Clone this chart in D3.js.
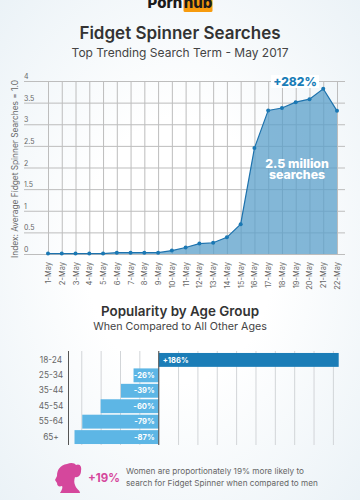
<!DOCTYPE html>
<html><head><meta charset="utf-8">
<script src="https://cdn.jsdelivr.net/npm/d3@7/dist/d3.min.js"></script>
<style>html,body{margin:0;padding:0;background:#fff;overflow:hidden}svg{display:block}text{font-family:Inter,"Noto Sans",sans-serif}</style>
</head><body><svg id="c" width="360" height="500"></svg>
<script>
const days=["1-May","2-May","3-May","4-May","5-May","6-May","7-May","8-May","9-May","10-May","11-May","12-May","13-May","14-May","15-May","16-May","17-May","18-May","19-May","20-May","21-May","22-May"];
const index=[0.01,0.01,0.01,0.01,0.01,0.03,0.03,0.03,0.03,0.08,0.15,0.24,0.26,0.385,0.69,2.45,3.32,3.375,3.51,3.58,3.82,3.31];
const yTicks=[0,0.5,1,1.5,2,2.5,3,3.5,4];
const ages=["18-24","25-34","35-44","45-54","55-64","65+"];
const popularity=[186,-26,-39,-60,-79,-87];
const popTicks=[-80,-60,-40,-20,0,20,40,60,80,100,120,140,160,180];

const svg=d3.select("#c");
const defs=svg.append("defs");
const g=defs.append("radialGradient").attr("id","bg").attr("cx","50%").attr("cy","50%").attr("r","75%");
g.append("stop").attr("offset","35%").attr("stop-color","#ffffff");
g.append("stop").attr("offset","100%").attr("stop-color","#e9f1f6");
svg.append("rect").attr("width",360).attr("height",500).attr("fill","url(#bg)");

function T(x,y,s,size,weight,fill,anchor){return svg.append("text").attr("x",x).attr("y",y).text(s).attr("font-size",size).attr("font-weight",weight).attr("fill",fill).attr("text-anchor",anchor||"middle");}

// logo
T(165,8,"Porn",15,800,"#1b1b1b");
svg.append("rect").attr("x",183.5).attr("y",-4).attr("width",29).attr("height",16).attr("rx",1.5).attr("fill","#f79b0e");
T(198,8,"hub",15,800,"#1b1b1b");

T(180,39,"Fidget Spinner Searches",17,600,"#333");
T(180,57,"Top Trending Search Term - May 2017",12,400,"#444");

// line chart
const x=d3.scalePoint().domain(days).range([48,337]);
const y=d3.scaleLinear().domain([0,4]).range([254,81]);
const grid="#bdbdbd";
const gy=svg.append("g").attr("transform","translate(24,0)").call(d3.axisRight(y).tickValues(yTicks).tickSize(321).tickFormat(d=>d));
gy.select(".domain").remove();
gy.selectAll("line").attr("stroke",grid);
gy.selectAll("text").attr("x",0).attr("dy",-2.5).attr("text-anchor","start").attr("font-size",7).attr("fill","#666").attr("font-family","Inter");
const gx=svg.append("g").attr("transform","translate(0,254)").call(d3.axisBottom(x).tickSize(-173).tickSizeOuter(0));
gx.select(".domain").remove();
gx.selectAll("line").attr("stroke",grid);
gx.selectAll("text").attr("transform","rotate(-90)").attr("x",-8).attr("y",0).attr("dy","0.33em").attr("text-anchor","end").attr("font-size",7.5).attr("fill","#666").attr("font-family","Inter");
svg.append("text").attr("transform","translate(18,169) rotate(-90)").attr("text-anchor","middle").attr("font-size",8.3).attr("fill","#666").text("Index: Average Fidget Spinner Searches = 1.0");

svg.append("path").datum(index).attr("fill","#5a9fca").attr("fill-opacity",.75)
 .attr("d",d3.area().x((d,i)=>x(days[i])).y0(y(0)).y1(d=>y(d)));
svg.append("path").datum(index).attr("fill","none").attr("stroke","#1d72ad").attr("stroke-width",1.2)
 .attr("d",d3.line().x((d,i)=>x(days[i])).y(d=>y(d)));
svg.selectAll(".dot").data(index).join("circle").attr("class","dot").attr("cx",(d,i)=>x(days[i])).attr("cy",d=>y(d)).attr("r",2).attr("fill","#1a78b4");

svg.append("rect").attr("x",271).attr("y",75).attr("width",48).attr("height",13).attr("fill","#fff");
T(295,86,"+282%",12,800,"#1b7db7");
const callout=svg.append("text").attr("text-anchor","middle").attr("font-size",12.3).attr("font-weight",800).attr("fill","#fff");
callout.append("tspan").attr("x",297).attr("y",168).text("2.5 million");
callout.append("tspan").attr("x",297).attr("y",179).text("searches");

// bars
T(180,315.5,"Popularity by Age Group",13.4,600,"#333");
T(180,329.5,"When Compared to All Other Ages",10.7,400,"#444");
const bx=d3.scaleLinear().domain([0,186]).range([158.7,338.7]);
const by=d3.scaleBand().domain(ages).range([352.2,444.8]).paddingInner(0.1).paddingOuter(0.05);
const gb=svg.append("g").attr("transform","translate(0,351)").call(d3.axisBottom(bx).tickValues(popTicks).tickSize(94).tickFormat(""));
gb.select(".domain").remove();
gb.selectAll("line").attr("stroke","#d2d5d8");
const ga=svg.append("g").attr("transform","translate(68.5,0)").call(d3.axisLeft(by).tickSize(0).tickPadding(6));
ga.select(".domain").attr("stroke","#555").attr("d","M0,351V445");
ga.selectAll("text").attr("font-size",8.3).attr("fill","#666").attr("font-family","Inter").attr("x",-17.5).attr("text-anchor","middle");
svg.selectAll(".bar").data(popularity).join("rect").attr("class","bar")
 .attr("x",d=>Math.min(bx(0),bx(d))).attr("width",d=>Math.abs(bx(d)-bx(0)))
 .attr("y",(d,i)=>by(ages[i])).attr("height",by.bandwidth())
 .attr("fill",d=>d>0?"#1b7db7":"#5db6e5");
svg.append("line").attr("x1",bx(0)).attr("x2",bx(0)).attr("y1",351).attr("y2",445).attr("stroke","#555");
svg.selectAll(".bl").data(popularity).join("text").attr("class","bl")
 .attr("x",d=>d>0?bx(0)+4:bx(0)-4).attr("y",(d,i)=>by(ages[i])+by.bandwidth()/2).attr("dy","0.35em")
 .attr("text-anchor",d=>d>0?"start":"end").attr("font-size",7.6).attr("font-weight",700).attr("fill","#fff")
 .text(d=>(d>0?"+":"")+d+"%");

// note
svg.append("path").attr("fill","#d5479c").attr("d","M55,480 L57,476 C57,470 60,465 67,464 C71,462 75,463 76,465 C80,463 82,467 81,471 C81,475 78,478 75,477 C74,480 74,483 75,485 C76,489 80,490 80,493 L60,493 C62,490 63,487 62,486 C59,487 57,486 57,483 Z");
T(88,482,"+19%",11.5,700,"#d5479c","start");
T(126,474,"Women are proportionately 19% more likely to",8.2,400,"#666","start");
T(126,486,"search for Fidget Spinner when compared to men",8.2,400,"#666","start");
</script></body></html>
